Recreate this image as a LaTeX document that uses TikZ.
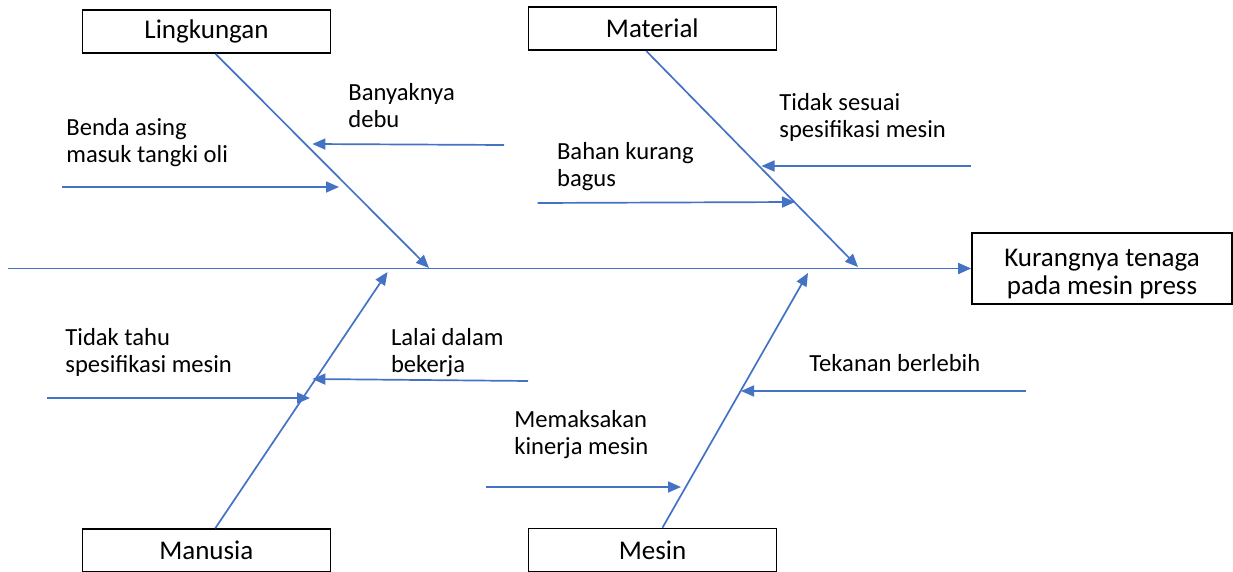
\documentclass[tikz,border=0pt]{standalone}
\usepackage{fontspec}
\setmainfont{Carlito}
\usetikzlibrary{arrows.meta,positioning}
\definecolor{boneblue}{HTML}{4472C4}

\begin{document}
\begin{tikzpicture}[x=0.5pt,y=-0.5pt,
                    font=\fontsize{12.3}{13.5}\selectfont]
	  \tikzstyle{category}=[draw=black,line width=0.8pt,minimum width=124pt,minimum height=21.5pt,inner sep=0pt,
	                        font=\fontsize{13.5}{14}\selectfont]
	  \tikzstyle{effect}=[draw=black,line width=0.8pt,minimum width=130pt,minimum height=35.5pt,align=center,inner sep=0pt,
	                      text height=28.3pt,font=\fontsize{13.5}{14}\selectfont]
	  \tikzstyle{cause}=[align=left,anchor=base west,inner sep=0pt]
	  \tikzstyle{bone}=[color=boneblue,line width=0.85pt,-{Triangle[length=6.5pt,width=5.5pt]}]
	  \useasboundingbox (0,0) rectangle (1233,572);

	  \node[category]      (lingkungan) at (206.5,31.5)  {Lingkungan};
	  \node[category]      (material)   at (652.3,28.7)  {Material};
	  \node[category]      (manusia)    at (206.3,550.5) {Manusia};
	  \node[category]      (mesin)      at (652.5,550)   {Mesin};
	  \node[effect]        (akibat)     at (1102,268.5)  {Kurangnya tenaga\\pada mesin press};

	  \coordinate (kepala) at (8,268.5);
	  \coordinate (hl) at (429,268);
	  \coordinate (hmt) at (858,267);
	  \coordinate (hmn) at (387.5,272);
	  \coordinate (hms) at (808,273);

	  \path (kepala) edge[bone] (akibat)
	  ([xshift=4.5pt]lingkungan.south) edge[bone] (hl)
	  ([xshift=-3pt]material.south) edge[bone] (hmt)
	  ([xshift=4.5pt]manusia.north) edge[bone] (hmn)
	  ([xshift=5pt]mesin.north) edge[bone] (hms);

	  % penyebab
	  \node[cause] (debu)    at (348,128)   {Banyaknya\\debu};
	  \node[cause] (benda)   at (66,163)    {Benda asing\\masuk tangki oli};
	  \node[cause] (spek)    at (779,138)   {Tidak sesuai\\spesifikasi mesin};
	  \node[cause] (bahan)   at (556.7,187) {Bahan kurang\\bagus};
	  \node[cause] (tahu)    at (65,373)    {Tidak tahu\\spesifikasi mesin};
	  \node[cause] (lalai)   at (390.6,373) {Lalai dalam\\bekerja};
	  \node[cause] (paksa)   at (514,455)   {Memaksakan\\kinerja mesin};
	  \node[cause] (tekanan) at (809,372)   {Tekanan berlebih};

	  \coordinate (debu-a) at (504,145);     \coordinate (debu-b) at (312.4,144);
	  \coordinate (benda-a) at (62,187);     \coordinate (benda-b) at (339,187);
	  \coordinate (spek-a) at (971,166);     \coordinate (spek-b) at (761.5,166);
	  \coordinate (bahan-a) at (537.7,203);  \coordinate (bahan-b) at (795,202);
	  \coordinate (tahu-a) at (46.7,398);    \coordinate (tahu-b) at (310,398);
	  \coordinate (lalai-a) at (528,381);    \coordinate (lalai-b) at (312.4,379);
	  \coordinate (paksa-a) at (485.6,487);  \coordinate (paksa-b) at (681,487);
	  \coordinate (tekanan-a) at (1026,391); \coordinate (tekanan-b) at (741,391);

	  \path (debu-a) edge[bone] (debu-b)
	  (benda-a) edge[bone] (benda-b)
	  (spek-a) edge[bone] (spek-b)
	  (bahan-a) edge[bone] (bahan-b)
	  (tahu-a) edge[bone] (tahu-b)
	  (lalai-a) edge[bone] (lalai-b)
	  (paksa-a) edge[bone] (paksa-b)
	  (tekanan-a) edge[bone] (tekanan-b);
	\end{tikzpicture}
\end{document}
